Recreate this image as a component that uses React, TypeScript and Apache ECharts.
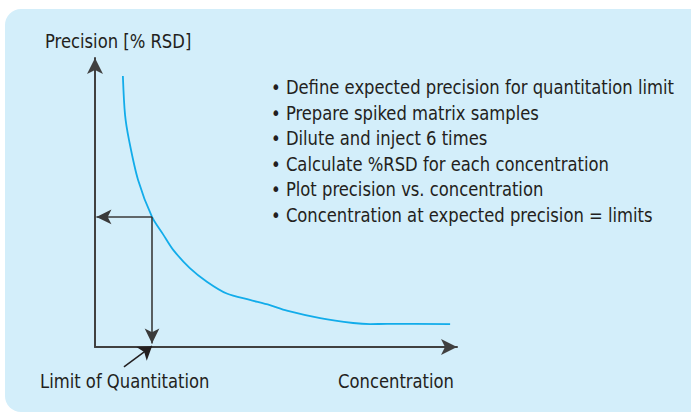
import React, { useEffect, useRef } from "react";
import * as echarts from "echarts";

// Precision (%RSD) vs concentration curve (0-100 scales)
const concentration = [7.7, 8.3, 9.4, 11.9, 15.75, 18.9, 21.6, 26.2, 30.9, 36.4, 42.8, 48.3, 53.0, 62.2, 71.3, 76.0, 80.7, 98.1];
const precision = [93.8, 80.3, 71.6, 57.8, 45.0, 38.8, 33.6, 27.3, 22.6, 18.5, 16.3, 14.5, 12.6, 10.0, 8.3, 7.9, 8.0, 7.9];

// Quantitation limit point (concentration, expected precision)
const loq = [15.75, 45.0];
// start of the pointer arrow towards the limit on the x-axis
const loqPointerStart = [8.0, -6.9];

const axisTitles = ["Precision [% RSD]", "Concentration", "Limit of Quantitation"];
const bullets = [
  "Define expected precision for quantitation limit",
  "Prepare spiked matrix samples",
  "Dilute and inject 6 times",
  "Calculate %RSD for each concentration",
  "Plot precision vs. concentration",
  "Concentration at expected precision = limits",
];

const FONT = "'DejaVu Sans Condensed', 'Liberation Sans Narrow', Roboto, sans-serif";
const TXT = "#231f20";
const SX = 0.96;

export default function App() {
  const ref = useRef<HTMLDivElement>(null);
  useEffect(() => {
    document.body.style.margin = "0";
    const chart = echarts.init(ref.current!, null, { renderer: "svg" });
    const arrowLine = { color: "#3a3a3a", width: 1.6, type: "solid" as const };
    const txt = (x: number, y: number, text: string, extra: any = {}) => ({
      type: "text",
      x,
      y,
      scaleX: SX,
      style: { text, font: `19px ${FONT}`, fill: TXT, ...extra },
    });
    chart.setOption({
      animation: false,
      backgroundColor: "#ffffff",
      graphic: [
        { type: "rect", z: -10, shape: { x: 5, y: 9, width: 720, height: 403, r: 16 }, style: { fill: "#d3eefa" } },
        txt(45, 32, axisTitles[0]),
        txt(271, 75, bullets.map((b) => "• " + b).join("\n"), { lineHeight: 25.5 }),
        txt(40, 372, axisTitles[2]),
        txt(338, 372, axisTitles[1]),
      ],
      grid: { left: 95, right: 234, top: 58, bottom: 66 },
      xAxis: {
        type: "value",
        min: 0,
        max: 100,
        axisLine: { show: true, lineStyle: { color: "#404040", width: 2 }, symbol: ["none", "arrow"], symbolSize: [12, 16] },
        axisTick: { show: false },
        axisLabel: { show: false },
        splitLine: { show: false },
      },
      yAxis: {
        type: "value",
        min: 0,
        max: 100,
        axisLine: { show: true, lineStyle: { color: "#404040", width: 2 }, symbol: ["none", "arrow"], symbolSize: [12, 16] },
        axisTick: { show: false },
        axisLabel: { show: false },
        splitLine: { show: false },
      },
      series: [
        {
          type: "line",
          data: concentration.map((c, i) => [c, precision[i]]),
          smooth: 0.3,
          showSymbol: false,
          clip: false,
          lineStyle: { color: "#12acea", width: 1.8 },
          markLine: {
            silent: true,
            symbol: ["none", "arrow"],
            symbolSize: [11, 15],
            label: { show: false },
            lineStyle: arrowLine,
            itemStyle: { color: "#231f20" },
            data: [
              [{ coord: [loq[0], loq[1]] }, { coord: [0.4, loq[1]] }],
              [{ coord: [loq[0], loq[1]] }, { coord: [loq[0], 1.2] }],
            ],
          },
        },
        {
          type: "lines",
          coordinateSystem: "cartesian2d",
          clip: false,
          silent: true,
          symbol: ["none", "arrow"],
          symbolSize: [10, 13],
          lineStyle: { color: "#231f20", width: 1.5, opacity: 1 },
          itemStyle: { color: "#231f20" },
          data: [{ coords: [loqPointerStart, [loq[0], 0.3]] }],
        },
      ],
    });
    return () => chart.dispose();
  }, []);
  return <div ref={ref} style={{ width: 691, height: 413 }} />;
}
